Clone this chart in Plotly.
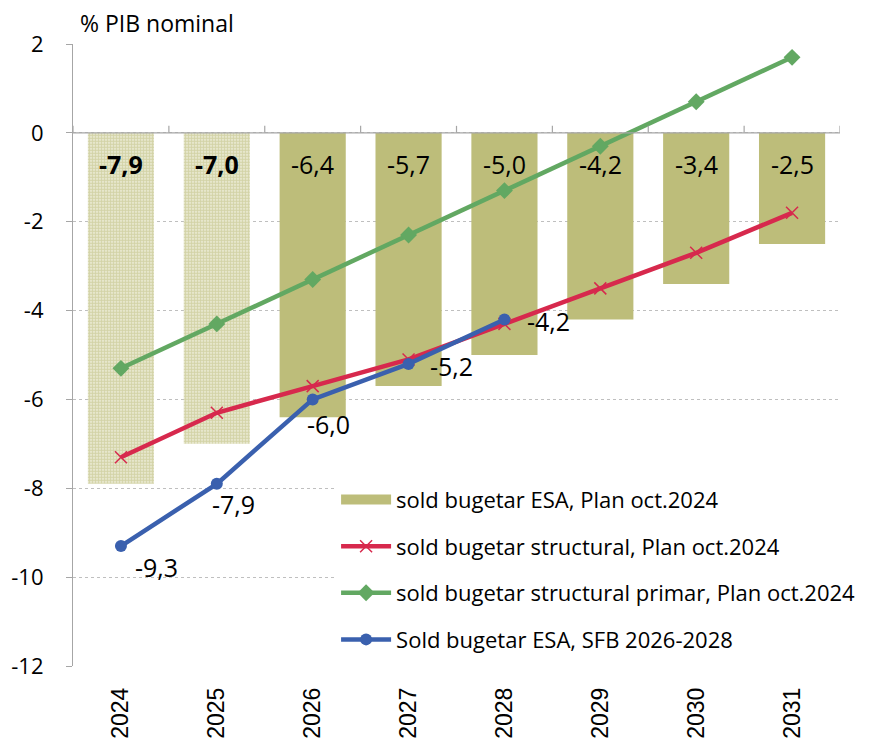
import plotly.graph_objects as go

years = ["2024", "2025", "2026", "2027", "2028", "2029", "2030", "2031"]
esa_plan = [-7.9, -7.0, -6.4, -5.7, -5.0, -4.2, -3.4, -2.5]
struct_plan = [-7.3, -6.3, -5.7, -5.1, -4.3, -3.5, -2.7, -1.8]
primar_plan = [-5.3, -4.3, -3.3, -2.3, -1.3, -0.3, 0.7, 1.7]
sfb_years = ["2024", "2025", "2026", "2027", "2028"]
sfb_esa = [-9.3, -7.9, -6.0, -5.2, -4.2]
yticks = [2, 0, -2, -4, -6, -8, -10, -12]

OLIVE = "#BDBD7A"
RED = "#D7294D"
GREEN = "#62A862"
BLUE = "#3A60AE"
FONT = "Open Sans, sans-serif"

idx = list(range(len(years)))
sfb_idx = [years.index(y) for y in sfb_years]

fig = go.Figure()
# bars 2026-2031 solid
fig.add_trace(go.Bar(
    x=idx[2:], y=esa_plan[2:], showlegend=False,
    marker=dict(color=OLIVE, line=dict(width=0)), width=0.69))
# bars 2024-2025 patterned
fig.add_trace(go.Bar(
    x=idx[:2], y=esa_plan[:2], showlegend=False,
    marker=dict(color="white", line=dict(width=0),
                pattern=dict(shape=".", fgcolor="#B3B36C", bgcolor="#F3F3E2",
                             size=3, solidity=0.7)),
    width=0.69))
# legend entry for bars (wide rectangle swatch)
fig.add_trace(go.Scatter(
    x=[None], y=[None], mode="lines", name="sold bugetar ESA, Plan oct.2024",
    line=dict(color=OLIVE, width=14), legendgroup="a"))
fig.add_trace(go.Scatter(
    x=idx, y=struct_plan, mode="lines+markers",
    name="sold bugetar structural, Plan oct.2024",
    line=dict(color=RED, width=4.5),
    marker=dict(symbol="x-thin", size=12, line=dict(color=RED, width=1.5)),
    legendgroup="b"))
fig.add_trace(go.Scatter(
    x=idx, y=primar_plan, mode="lines+markers",
    name="sold bugetar structural primar, Plan oct.2024",
    line=dict(color=GREEN, width=4.5),
    marker=dict(symbol="diamond", size=13, color=GREEN),
    legendgroup="c"))
fig.add_trace(go.Scatter(
    x=sfb_idx, y=sfb_esa, mode="lines+markers",
    name="Sold bugetar ESA, SFB 2026-2028",
    line=dict(color=BLUE, width=4.5),
    marker=dict(symbol="circle", size=12, color=BLUE),
    legendgroup="d"))

# bar value labels
for i, v in enumerate(esa_plan):
    txt = f"{v:.1f}".replace(".", ",")
    if i < 2:
        txt = f"<b>{txt}</b>"
    fig.add_annotation(x=i, y=-0.7, text=txt, showarrow=False,
                       font=dict(family=FONT, size=25, color="black"))

# blue line labels
shifts = [(36, -21), (17, -20), (16, -25), (43, -2), (44, -2)]
for i, v, (dx, dy) in zip(sfb_idx, sfb_esa, shifts):
    fig.add_annotation(x=i, y=v, text=f"{v:.1f}".replace(".", ","),
                       showarrow=False, xshift=dx, yshift=dy,
                       font=dict(family=FONT, size=25, color="black"))

# axis line at zero with tick marks between categories
fig.add_shape(type="line", xref="paper", yref="y", x0=0, x1=1, y0=0, y1=0,
              line=dict(color="#A6A6A6", width=1.2))
for k in range(len(years) + 1):
    fig.add_shape(type="line", xref="x", yref="y", x0=k - 0.5, x1=k - 0.5,
                  ysizemode="pixel", yanchor=0, y0=0, y1=7,
                  line=dict(color="#A6A6A6", width=1.2))

fig.add_annotation(xref="paper", yref="paper", x=0.0065, y=1.0, yshift=3,
                   xanchor="left", yanchor="bottom", text="% PIB nominal",
                   showarrow=False,
                   font=dict(family=FONT, size=23, color="black"))

fig.update_layout(
    width=881, height=744,
    margin=dict(l=65, r=49, t=36, b=86, autoexpand=False),
    paper_bgcolor="white", plot_bgcolor="white",
    barmode="overlay",
    font=dict(family=FONT, color="black"),
    legend=dict(x=0.343, y=0.301, xanchor="left", yanchor="top",
                bgcolor="white", font=dict(family=FONT, size=22),
                tracegroupgap=15, itemwidth=50, traceorder="grouped"),
    xaxis=dict(range=[-0.5, 7.5], tickvals=idx, ticktext=years,
               showgrid=False, showline=False, zeroline=False,
               automargin=False,
               ticks="", tickangle=-90, ticklabelstandoff=16,
               tickfont=dict(family="Liberation Sans, Arial", size=23)),
    yaxis=dict(range=[-12, 2], tickvals=yticks,
               ticktext=[str(t) for t in yticks],
               showgrid=True, gridcolor="#BFBFBF", griddash="dot",
               gridwidth=1, zeroline=False, showline=True,
               automargin=False,
               linecolor="#A6A6A6", linewidth=1.2, ticks="outside",
               ticklen=6, tickcolor="#A6A6A6", ticklabelstandoff=18,
               tickfont=dict(family=FONT, size=22)),
)

fig.write_html("out.html")
